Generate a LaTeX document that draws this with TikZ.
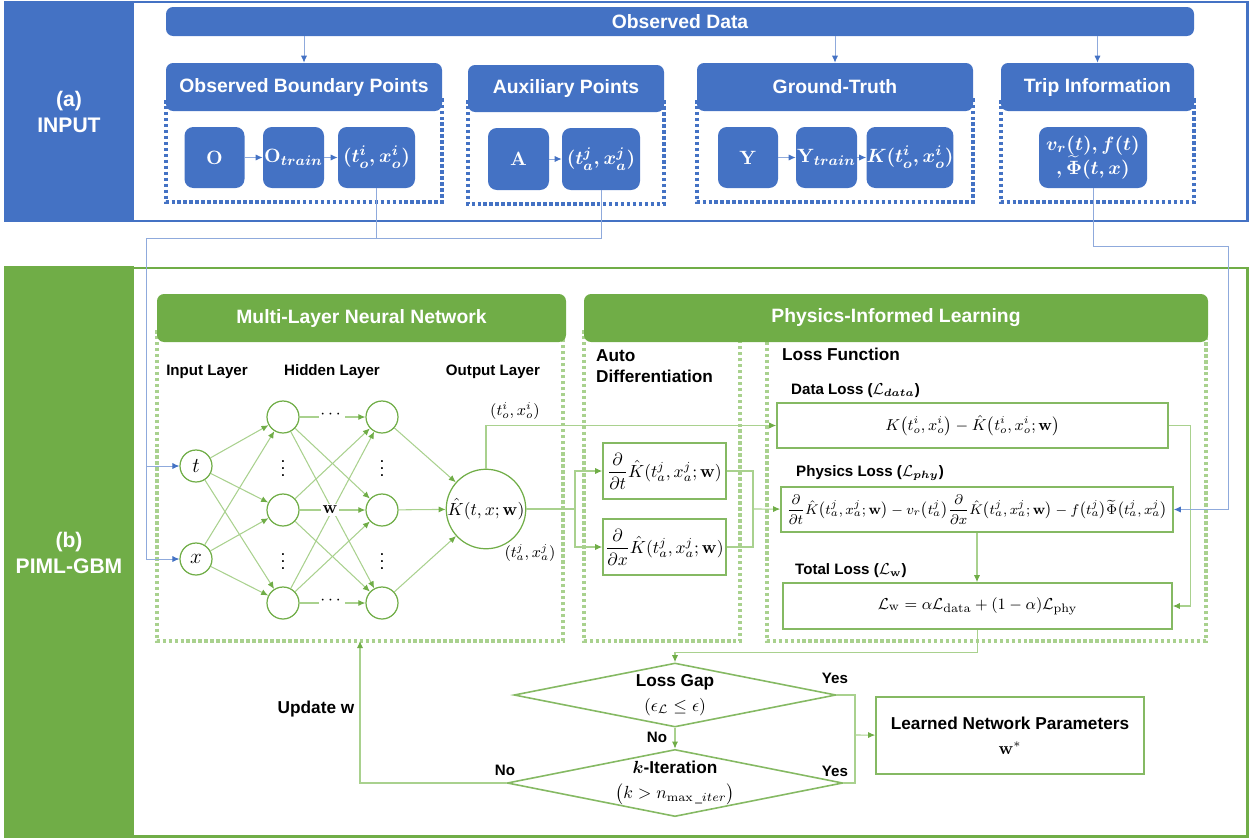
\documentclass[tikz,border=0pt]{standalone}
\usepackage[no-math]{fontspec}
\setmainfont{Liberation Sans}
\usepackage{amsmath}
\usetikzlibrary{arrows.meta,shapes.geometric}

\definecolor{inblue}{HTML}{4472C4}
\definecolor{linkblue}{HTML}{8FAADC}
\definecolor{pimlgreen}{HTML}{70AD47}
\definecolor{lightgreen}{HTML}{A9D18E}

\tikzset{
  wh/.style 2 args={minimum width=#1*0.02cm, minimum height=#2*0.02cm},
  band/.style={text=white, align=center, font=\fontsize{12}{15}\selectfont\bfseries},
  head/.style={rounded corners=4pt, inner sep=0pt, text=white,
    font=\fontsize{11}{13}\selectfont\bfseries},
  bluehead/.style={head, fill=inblue},
  greenhead/.style={head, fill=pimlgreen},
  databox/.style={rounded corners=5pt, fill=inblue, inner sep=0pt, text=white,
    font=\fontsize{11}{14}\selectfont\boldmath},
  bluedots/.style={inblue, line width=2pt, dash pattern=on 2pt off 1.4pt},
  greendots/.style={lightgreen, line width=2pt, dash pattern=on 2pt off 1.4pt},
  neuron/.style={circle, draw=pimlgreen, line width=0.7pt, inner sep=0pt,
    minimum size=32*0.02cm, font=\fontsize{12}{14}\selectfont},
  lossbox/.style={draw=pimlgreen!85, line width=0.9pt, inner sep=0pt},
  decision/.style={diamond, draw=pimlgreen!85, line width=0.9pt, aspect=5,
    inner sep=0pt, wh={322}{64}, align=center, font=\fontsize{9.8}{14}\selectfont},
  lbl/.style={font=\fontsize{8.6}{10}\selectfont\bfseries},
  title/.style={font=\fontsize{9.8}{12}\selectfont\bfseries},
  blink/.style={linkblue, line width=0.5pt, -{Latex[length=4pt,width=3.5pt,color=inblue]}},
  glink/.style={lightgreen, line width=0.6pt, -{Latex[length=4pt,width=3.5pt,color=pimlgreen]}},
  gline/.style={lightgreen, line width=0.6pt}
}

\begin{document}
\begin{tikzpicture}[x=0.02cm, y=-0.02cm]
  \useasboundingbox (0,0) rectangle (1252,839);

  % (a) input block
  \fill[inblue] (4,1) rectangle (134,222);
  \draw[inblue, line width=1.7pt] (5,2) rectangle (1247,221);
  \node[band] (alabel) at (69,112) {(a)\\INPUT};

  \draw[bluedots] (166,100) rectangle (442,202);
  \draw[bluedots] (468,100) rectangle (664,204);
  \draw[bluedots] (697,100) rectangle (973,202);
  \draw[bluedots] (1001,100) rectangle (1194,202);

  \node[bluehead, wh={1028}{29}] (obsdata) at (680,21.5) {Observed Data};
  \node[bluehead, wh={276}{48}] (gobp) at (304,87) {Observed Boundary Points};
  \node[bluehead, wh={196}{47}] (gaux) at (566,88.5) {Auxiliary Points};
  \node[bluehead, wh={276}{48}] (gtruth) at (835,87) {Ground-Truth};
  \node[bluehead, wh={193}{48}] (gtrip) at (1097.5,87) {Trip Information};

  \node[databox, wh={60}{61}] (O) at (214.5,157.5) {$\mathrm{O}$};
  \node[databox, wh={61}{61}] (Otrain) at (293.5,157.5) {$\mathrm{O}_{train}$};
  \node[databox, wh={77}{61}] (tox) at (376.5,157.5) {$(t_o^i, x_o^i)$};
  \node[databox, wh={61}{62}] (A) at (518.5,159) {$\mathrm{A}$};
  \node[databox, wh={78}{62}] (tax) at (601,159) {$(t_a^j, x_a^j)$};
  \node[databox, wh={60}{61}] (Y) at (748,157.5) {$\mathrm{Y}$};
  \node[databox, wh={61}{61}] (Ytrain) at (826.5,157.5) {$\mathrm{Y}_{train}$};
  \node[databox, wh={78}{61}] (Ktrue) at (910,157.5) {$K(t_o^i, x_o^i)$};
  \node[databox, wh={108}{61}, align=center] (trip) at (1093,157.5)
    {$v_r(t), f(t)$\\$,\widetilde{\Phi}(t,x)$};

  \draw[blink] (gobp |- obsdata.south) -- (gobp);
  \draw[blink] (gtruth |- obsdata.south) -- (gtruth);
  \draw[blink] (gtrip |- obsdata.south) -- (gtrip);
  \draw[blink] (O) -- (Otrain);
  \draw[blink] (Otrain) -- (tox);
  \draw[blink] (A) -- (tax);
  \draw[blink] (Y) -- (Ytrain);
  \draw[blink] (Ytrain) -- (Ktrue);

  % (b) PIML-GBM block
  \fill[pimlgreen] (4,266) rectangle (134,837);
  \draw[pimlgreen, line width=1.7pt] (5,268) rectangle (1247,836);
  \node[band] (blabel) at (69,553) {(b)\\PIML-GBM};

  \draw[greendots] (157,330) rectangle (563,641);
  \draw[greendots] (584,330) rectangle (740,641);
  \draw[greendots] (767,330) rectangle (1206,641);
  \node[greenhead, wh={409}{48}] (nnhead) at (361.5,318) {Multi-Layer Neural Network};
  \node[greenhead, wh={624}{48}] (pilhead) at (896,318) {Physics-Informed Learning};

  % network
  \node[lbl] (inlayer) at (207,372) {Input Layer};
  \node[lbl] (hidlayer) at (332,372) {Hidden Layer};
  \node[lbl] (outlayer) at (493,372) {Output Layer};

  \node[neuron] (t) at (196,466) {$t$};
  \node[neuron] (x) at (196,559) {$x$};
  \foreach \k/\y in {1/417,2/510,3/603} {
    \node[neuron] (ha\k) at (283,\y) {};
    \node[neuron] (hb\k) at (382,\y) {};
  }
  \node[neuron, minimum size=78*0.02cm, font=\fontsize{10}{12}\selectfont] (out)
    at (486,509) {$\hat{K}(t,x;\mathbf{w})$};

  \foreach \k in {1,2,3} {
    \draw[glink] (t) -- (ha\k);
    \draw[glink] (x) -- (ha\k);
    \draw[glink] (hb\k) -- (out);
    \foreach \m in {1,2,3}
      \draw[glink] (ha\k) -- (hb\m);
  }
  \node[fill=white, inner sep=1pt] (dotstop) at (332,415) {$\cdots$};
  \node[fill=white, inner sep=1pt] (dotsbot) at (332,601) {$\cdots$};
  \node[fill=white, inner sep=1pt] (wlbl) at (330,510) {$\mathbf{w}$};
  \foreach \c/\xx in {a/283,b/382} {
    \node (vd\c1) at (\xx,463) {$\vdots$};
    \node (vd\c2) at (\xx,556) {$\vdots$};
  }
  \node[font=\fontsize{9}{11}\selectfont] (toxlbl) at (515,411) {$(t_o^i, x_o^i)$};
  \node[font=\fontsize{9}{11}\selectfont] (taxlbl) at (530,553) {$(t_a^j, x_a^j)$};

  % auto differentiation
  \node[title, anchor=north west, align=left] (adlbl) at (590,343) {Auto\\Differentiation};
  \node[lossbox, wh={123}{56}, font=\fontsize{10}{12}\selectfont] (ddt) at (664.5,471)
    {$\dfrac{\partial}{\partial t}\hat{K}(t_a^j, x_a^j;\mathbf{w})$};
  \node[lossbox, wh={123}{56}, font=\fontsize{10}{12}\selectfont] (ddx) at (664.5,547)
    {$\dfrac{\partial}{\partial x}\hat{K}(t_a^j, x_a^j;\mathbf{w})$};

  % loss function
  \node[title, anchor=west] (lflbl) at (776,354) {Loss Function};
  \node[lbl, anchor=west] (datalbl) at (785,391) {Data Loss ($\mathcal{L}_{\boldsymbol{data}}$)};
  \node[lossbox, wh={391}{45}, font=\fontsize{9}{11}\selectfont] (dataloss) at (972.5,425.5)
    {$K\bigl(t_o^i, x_o^i\bigr) - \hat{K}\bigl(t_o^i, x_o^i;\mathbf{w}\bigr)$};
  \node[lbl, anchor=west] (physlbl) at (790,473) {Physics Loss ($\mathcal{L}_{\boldsymbol{phy}}$)};
  \node[lossbox, wh={392}{45}, font=\fontsize{8.5}{10}\selectfont] (physloss) at (977,509.5)
    {$\dfrac{\partial}{\partial t}\hat{K}\bigl(t_a^j, x_a^j;\mathbf{w}\bigr)
      - v_r\bigl(t_a^j\bigr)\dfrac{\partial}{\partial x}\hat{K}\bigl(t_a^j, x_a^j;\mathbf{w}\bigr)
      - f\bigl(t_a^j\bigr)\widetilde{\Phi}\bigl(t_a^j, x_a^j\bigr)$};
  \node[lbl, anchor=west] (totallbl) at (789,571) {Total Loss ($\mathcal{L}_{\mathbf{w}}$)};
  \node[lossbox, wh={389}{46}, font=\fontsize{9.5}{11}\selectfont] (totalloss) at (977.5,606)
    {$\mathcal{L}_{\mathrm{w}} = \alpha\mathcal{L}_{\mathrm{data}} + (1-\alpha)\mathcal{L}_{\mathrm{phy}}$};

  % links inside (b)
  \coordinate (split) at (575,509);
  \coordinate (merge) at (753,509);
  \draw[glink] (out) |- (dataloss);
  \draw[gline] (out) -- (split);
  \draw[glink] (split) |- (ddt);
  \draw[glink] (split) |- (ddx);
  \draw[gline] (ddt) -| (merge);
  \draw[gline] (ddx) -| (merge);
  \draw[glink] (merge) -- (physloss);
  \draw[glink] (physloss.south) -- (physloss.south |- totalloss.north);
  \draw[glink] (dataloss.east) -- ++(22,0) |- (totalloss.east);

  % links from (a)
  \coordinate (obsbend) at (146,238);
  \coordinate (tripbend) at (1228,246);
  \draw[linkblue, line width=0.5pt] (tox) |- (obsbend);
  \draw[linkblue, line width=0.5pt] (tax) |- (obsbend);
  \draw[blink] (obsbend) |- (t);
  \draw[blink] (obsbend) |- (x);
  \draw[linkblue, line width=0.5pt] (trip) |- (tripbend);
  \draw[blink] (tripbend) |- (physloss.east);

  % stopping rule
  \node[decision] (gap) at (675,695) {\textbf{Loss Gap}\\$(\epsilon_{\mathcal{L}} \le \epsilon)$};
  \node[decision] (iter) at (675,783) {\textbf{$\boldsymbol{k}$-Iteration}\\$\bigl(k > n_{\max\_iter}\bigr)$};
  \node[lossbox, wh={268}{77}, align=center, font=\fontsize{9.8}{14}\selectfont\bfseries]
    (learned) at (1010,735.5) {Learned Network Parameters\\$\mathbf{w}^{*}$};
  \coordinate (yesjoin) at (855,735);
  \coordinate (nnbottom) at (360,641);

  \draw[glink] (totalloss.south) -- ++(0,23) -| (gap.north);
  \draw[glink] (gap.south) -- (iter.north);
  \draw[gline] (gap.east) -| (yesjoin);
  \draw[gline] (iter.east) -| (yesjoin);
  \draw[glink] (yesjoin) -- (learned);
  \draw[glink] (iter.west) -| (nnbottom);

  \node[lbl] (yes1) at (835,678) {Yes};
  \node[lbl] (yes2) at (835,771) {Yes};
  \node[lbl] (no1) at (657,737) {No};
  \node[lbl] (no2) at (505,770) {No};
  \node[title] (upd) at (316,709) {Update w};
\end{tikzpicture}
\end{document}
